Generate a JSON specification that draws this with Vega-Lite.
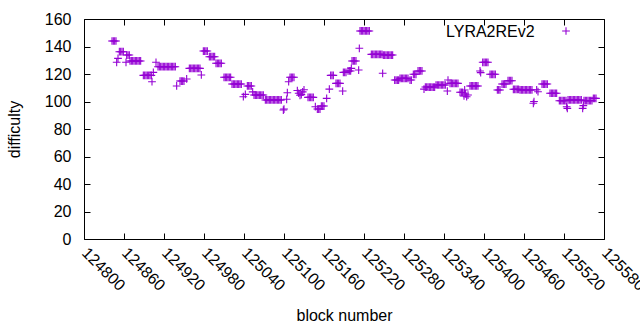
{
"$schema": "https://vega.github.io/schema/vega-lite/v6.json",
"width": 520, "height": 220,
"autosize": {"type": "none"},
"padding": {"left": 84, "top": 19, "right": 36, "bottom": 91},
"config": {"view": {"stroke": "black", "strokeWidth": 1}, "font": "Liberation Sans",
  "axis": {"labelFont": "Liberation Sans", "titleFont": "Liberation Sans", "labelFontSize": 16, "titleFontSize": 16, "titleFontWeight": "normal", "labelColor": "black", "titleColor": "black", "tickColor": "black", "grid": false, "domain": false}},
"data": {"values": [
{"b":124842,"d":144},{"b":124844,"d":144},{"b":124846,"d":144},{"b":124848,"d":144},
{"b":124849,"d":128.5},{"b":124851,"d":131.4},
{"b":124853,"d":136.2},{"b":124855,"d":136.2},{"b":124857,"d":136.2},{"b":124859,"d":136.2},
{"b":124863,"d":128.5},
{"b":124864,"d":133.8},{"b":124866,"d":133.8},{"b":124868,"d":133.8},
{"b":124869,"d":129.5},{"b":124871,"d":129.5},{"b":124873,"d":129.5},{"b":124875,"d":129.5},{"b":124877,"d":129.5},{"b":124879,"d":129.5},{"b":124881,"d":129.5},{"b":124883,"d":129.5},{"b":124885,"d":129.5},
{"b":124889,"d":119},{"b":124891,"d":119},{"b":124893,"d":119},{"b":124895,"d":119},{"b":124897,"d":119},{"b":124899,"d":119},{"b":124901,"d":119},
{"b":124902,"d":114.4},{"b":124904,"d":121.2},{"b":124908,"d":128.5},
{"b":124911,"d":125.3},{"b":124913,"d":125.3},{"b":124915,"d":125.3},{"b":124917,"d":125.3},{"b":124919,"d":125.3},{"b":124921,"d":125.3},{"b":124923,"d":125.3},{"b":124925,"d":125.3},{"b":124927,"d":125.3},{"b":124929,"d":125.3},{"b":124931,"d":125.3},{"b":124933,"d":125.3},{"b":124935,"d":125.3},{"b":124937,"d":125.3},
{"b":124939,"d":111.3},
{"b":124944,"d":114.9},{"b":124946,"d":114.9},{"b":124948,"d":114.9},{"b":124950,"d":114.9},
{"b":124954,"d":116.4},
{"b":124958,"d":124.1},{"b":124960,"d":124.1},{"b":124962,"d":124.1},{"b":124964,"d":124.1},{"b":124966,"d":124.1},{"b":124968,"d":124.1},{"b":124970,"d":124.1},{"b":124972,"d":124.1},{"b":124974,"d":124.1},
{"b":124976,"d":119.3},
{"b":124979,"d":136.7},{"b":124981,"d":136.7},{"b":124983,"d":136.7},{"b":124985,"d":136.7},
{"b":124988,"d":132.6},{"b":124990,"d":132.6},{"b":124992,"d":132.6},{"b":124994,"d":132.6},{"b":124996,"d":132.6},
{"b":124998,"d":127.8},{"b":125000,"d":127.8},{"b":125002,"d":127.8},{"b":125004,"d":127.8},{"b":125006,"d":127.8},
{"b":125010,"d":117.6},{"b":125012,"d":117.6},{"b":125014,"d":117.6},{"b":125016,"d":117.6},{"b":125018,"d":117.6},{"b":125020,"d":117.6},
{"b":125022,"d":112.7},{"b":125024,"d":112.7},{"b":125026,"d":112.7},{"b":125028,"d":112.7},{"b":125030,"d":112.7},{"b":125032,"d":112.7},{"b":125034,"d":112.7},{"b":125036,"d":112.7},
{"b":125039,"d":103.5},{"b":125042,"d":105.2},
{"b":125045,"d":111.3},{"b":125047,"d":111.3},{"b":125049,"d":111.3},{"b":125051,"d":111.3},
{"b":125053,"d":107},
{"b":125055,"d":104.7},{"b":125057,"d":104.7},{"b":125059,"d":104.7},{"b":125061,"d":104.7},{"b":125063,"d":104.7},{"b":125065,"d":104.7},{"b":125067,"d":104.7},{"b":125069,"d":104.7},
{"b":125072,"d":101.1},{"b":125074,"d":101.1},{"b":125076,"d":101.1},{"b":125078,"d":101.1},{"b":125080,"d":101.1},{"b":125082,"d":101.1},{"b":125084,"d":101.1},{"b":125086,"d":101.1},{"b":125088,"d":101.1},{"b":125090,"d":101.1},{"b":125092,"d":101.1},{"b":125094,"d":101.1},{"b":125096,"d":101.1},
{"b":125099,"d":93.8},{"b":125100,"d":94.5},{"b":125104,"d":101.6},{"b":125105,"d":106.4},{"b":125107,"d":114.4},
{"b":125109,"d":117.6},{"b":125111,"d":117.6},{"b":125113,"d":117.6},{"b":125115,"d":117.6},
{"b":125120,"d":108},{"b":125122,"d":106},{"b":125124,"d":104.5},{"b":125126,"d":105},{"b":125128,"d":107},{"b":125130,"d":108.5},
{"b":125136,"d":103},{"b":125138,"d":103},{"b":125140,"d":103},{"b":125142,"d":103},{"b":125144,"d":103},
{"b":125147,"d":96.2},
{"b":125150,"d":94.5},{"b":125152,"d":94.5},{"b":125154,"d":94.5},
{"b":125156,"d":96.7},{"b":125158,"d":96.7},{"b":125160,"d":96.7},
{"b":125164,"d":102.3},{"b":125168,"d":109},
{"b":125170,"d":119},{"b":125172,"d":119},{"b":125174,"d":119},
{"b":125178,"d":113.2},{"b":125180,"d":113.2},{"b":125182,"d":113.2},{"b":125184,"d":113.2},
{"b":125188,"d":107.6},
{"b":125189,"d":121.2},{"b":125191,"d":121.2},{"b":125193,"d":121.2},
{"b":125196,"d":122.2},{"b":125198,"d":122.2},{"b":125200,"d":122.2},
{"b":125201,"d":124.1},
{"b":125202,"d":129.5},{"b":125204,"d":129.5},{"b":125206,"d":129.5},{"b":125208,"d":129.5},
{"b":125212,"d":122.9},{"b":125213,"d":138.7},
{"b":125214,"d":151.3},{"b":125216,"d":151.3},{"b":125218,"d":151.3},{"b":125220,"d":151.3},{"b":125222,"d":151.3},{"b":125224,"d":151.3},{"b":125226,"d":151.3},{"b":125228,"d":151.3},
{"b":125231,"d":134.3},{"b":125233,"d":134.3},{"b":125235,"d":134.3},{"b":125237,"d":134.3},{"b":125239,"d":134.3},{"b":125241,"d":134.3},{"b":125243,"d":134.3},{"b":125245,"d":134.3},{"b":125247,"d":134.3},
{"b":125248,"d":120.5},
{"b":125249,"d":133.8},{"b":125251,"d":133.8},{"b":125253,"d":133.8},{"b":125255,"d":133.8},{"b":125257,"d":133.8},{"b":125259,"d":133.8},{"b":125261,"d":133.8},{"b":125263,"d":133.8},
{"b":125266,"d":115.6},{"b":125268,"d":115.6},{"b":125270,"d":115.6},{"b":125272,"d":115.6},
{"b":125274,"d":116.9},{"b":125276,"d":116.9},{"b":125278,"d":116.9},{"b":125280,"d":116.9},{"b":125282,"d":116.9},{"b":125284,"d":116.9},{"b":125286,"d":116.9},
{"b":125289,"d":115.6},{"b":125291,"d":115.6},
{"b":125294,"d":119.8},{"b":125296,"d":119.8},{"b":125298,"d":119.8},
{"b":125301,"d":122.2},{"b":125303,"d":122.2},{"b":125305,"d":122.2},{"b":125307,"d":122.2},
{"b":125310,"d":109},
{"b":125312,"d":110.5},{"b":125314,"d":110.5},{"b":125316,"d":110.5},{"b":125318,"d":110.5},{"b":125320,"d":110.5},{"b":125322,"d":110.5},{"b":125324,"d":110.5},{"b":125326,"d":110.5},
{"b":125328,"d":112},{"b":125330,"d":112},{"b":125332,"d":112},{"b":125334,"d":112},{"b":125336,"d":112},{"b":125338,"d":112},{"b":125340,"d":112},{"b":125342,"d":112},
{"b":125345,"d":107.6},{"b":125346,"d":115.6},
{"b":125349,"d":113.2},{"b":125351,"d":113.2},{"b":125353,"d":113.2},{"b":125355,"d":113.2},{"b":125357,"d":113.2},{"b":125359,"d":113.2},{"b":125361,"d":113.2},
{"b":125364,"d":106.7},{"b":125366,"d":106.7},{"b":125368,"d":106.7},
{"b":125370,"d":104},{"b":125371,"d":108.4},{"b":125372,"d":105.5},{"b":125374,"d":103.5},{"b":125376,"d":104.7},
{"b":125379,"d":111.3},{"b":125381,"d":111.3},{"b":125383,"d":111.3},{"b":125385,"d":111.3},{"b":125387,"d":111.3},{"b":125389,"d":111.3},{"b":125391,"d":111.3},
{"b":125394,"d":122.2},{"b":125395,"d":121},
{"b":125398,"d":128.5},{"b":125400,"d":128.5},{"b":125402,"d":128.5},{"b":125404,"d":128.5},{"b":125406,"d":128.5},
{"b":125409,"d":119.8},{"b":125411,"d":119.8},{"b":125413,"d":119.8},{"b":125415,"d":119.8},{"b":125417,"d":119.8},
{"b":125420,"d":108.4},{"b":125422,"d":108.4},{"b":125424,"d":108.4},
{"b":125427,"d":112.7},{"b":125429,"d":112.7},{"b":125431,"d":112.7},{"b":125433,"d":112.7},
{"b":125436,"d":115.1},{"b":125438,"d":115.1},{"b":125440,"d":115.1},{"b":125442,"d":115.1},
{"b":125444,"d":108.9},{"b":125446,"d":108.9},{"b":125448,"d":108.9},{"b":125450,"d":108.9},{"b":125452,"d":108.9},
{"b":125454,"d":108.4},{"b":125456,"d":108.4},{"b":125458,"d":108.4},{"b":125460,"d":108.4},{"b":125462,"d":108.4},{"b":125464,"d":108.4},{"b":125466,"d":108.4},{"b":125468,"d":108.4},{"b":125470,"d":108.4},{"b":125472,"d":108.4},
{"b":125474,"d":98.7},{"b":125475,"d":100},
{"b":125479,"d":108.5},{"b":125481,"d":107.1},
{"b":125487,"d":112.7},{"b":125489,"d":112.7},{"b":125491,"d":112.7},{"b":125493,"d":112.7},{"b":125495,"d":112.7},
{"b":125499,"d":106},{"b":125501,"d":106},{"b":125503,"d":106},{"b":125505,"d":106},{"b":125507,"d":106},{"b":125509,"d":106},
{"b":125513,"d":100.6},{"b":125515,"d":100.6},{"b":125517,"d":100.6},{"b":125519,"d":100.6},{"b":125521,"d":100.6},{"b":125523,"d":100.6},
{"b":125524,"d":96.2},{"b":125525,"d":95},
{"b":125526,"d":101.1},{"b":125528,"d":101.1},{"b":125530,"d":101.1},{"b":125532,"d":101.1},{"b":125534,"d":101.1},{"b":125536,"d":101.1},{"b":125538,"d":101.1},{"b":125540,"d":101.1},{"b":125542,"d":101.1},{"b":125544,"d":101.1},{"b":125546,"d":101.1},
{"b":125548,"d":95},{"b":125549,"d":97},
{"b":125550,"d":100.6},{"b":125552,"d":100.6},{"b":125554,"d":100.6},{"b":125556,"d":100.6},{"b":125558,"d":100.6},{"b":125560,"d":100.6},{"b":125562,"d":100.6},
{"b":125564,"d":102.3},{"b":125566,"d":102.3},{"b":125568,"d":102.3}
]},
"layer": [
 {"mark": {"type": "point", "shape": "M-1,0H1M0,-1V1", "filled": false, "size": 60, "strokeWidth": 1.1, "opacity": 1},
  "encoding": {
   "x": {"field": "b", "type": "quantitative", "scale": {"domain": [124800, 125580], "nice": false, "zero": false},
     "axis": {"orient": "bottom", "values": [124800,124860,124920,124980,125040,125100,125160,125220,125280,125340,125400,125460,125520,125580], "format": "d", "labelAngle": 45, "labelAlign": "left", "labelBaseline": "middle", "labelPadding": 17, "tickSize": -6, "title": "block number", "titlePadding": 14, "labelFlush": false, "labelOverlap": false}},
   "y": {"field": "d", "type": "quantitative", "scale": {"domain": [0, 160], "nice": false},
     "axis": {"orient": "left", "values": [0,20,40,60,80,100,120,140,160], "tickSize": -6, "labelPadding": 19, "title": "difficulty", "titlePadding": 22, "labelOverlap": false}},
   "color": {"datum": "LYRA2REv2", "scale": {"range": ["#9400d3"]},
     "legend": {"orient": "none", "legendX": 362, "legendY": 7, "title": "LYRA2REv2", "titleOrient": "left", "titleAngle": 0, "titleBaseline": "middle", "titleFontSize": 16, "titleFontWeight": "normal", "titleFont": "Liberation Sans", "titleColor": "black", "titlePadding": 26, "labelExpr": "''", "symbolType": "M-1,0H1M0,-1V1", "symbolSize": 60, "symbolStrokeWidth": 1.1, "symbolStrokeColor": "#9400d3", "symbolFillColor": "transparent"}}
  }},
 {"mark": {"type": "point", "opacity": 0},
  "encoding": {
   "x": {"field": "b", "type": "quantitative", "scale": {"domain": [124800, 125580], "nice": false, "zero": false},
     "axis": {"orient": "top", "values": [124800,124860,124920,124980,125040,125100,125160,125220,125280,125340,125400,125460,125520,125580], "labels": false, "tickSize": -6, "title": null}},
   "y": {"field": "d", "type": "quantitative", "scale": {"domain": [0, 160], "nice": false},
     "axis": {"orient": "right", "values": [0,20,40,60,80,100,120,140,160], "labels": false, "tickSize": -6, "title": null}}
  }}
],
"resolve": {"axis": {"x": "independent", "y": "independent"}}
}
